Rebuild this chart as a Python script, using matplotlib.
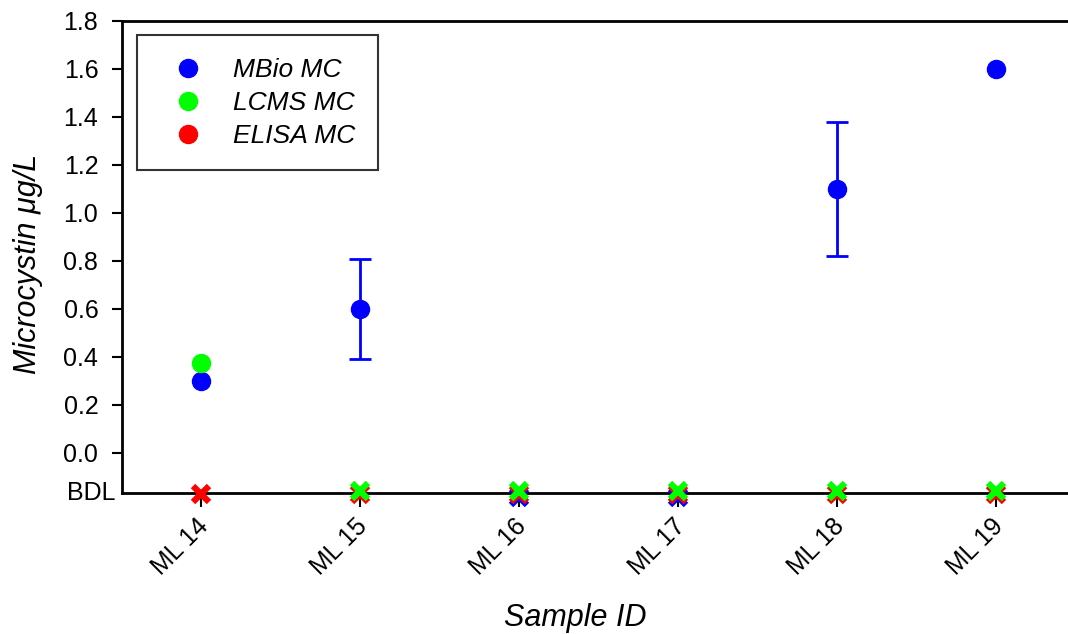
import matplotlib
matplotlib.use("Agg")
import matplotlib.pyplot as plt
import matplotlib.transforms as mtransforms
from matplotlib.lines import Line2D
import numpy as np

plt.rcParams['font.family'] = ['Liberation Sans', 'DejaVu Sans']

# sample sites and measured microcystin (None = below detection limit)
samples = ["ML 14", "ML 15", "ML 16", "ML 17", "ML 18", "ML 19"]
mbio = [0.3, 0.6, None, None, 1.1, 1.6]
mbio_err = [None, 0.21, None, None, 0.28, None]
lcms = [0.375, None, None, None, None, None]
elisa = [None, None, None, None, None, None]

bdl = -0.167
yticks = [0.0, 0.2, 0.4, 0.6, 0.8, 1.0, 1.2, 1.4, 1.6, 1.8]

fig = plt.figure(figsize=(10.68, 6.34), dpi=100)
ax = fig.add_axes([0.1142, 0.2224, 0.8858, 0.7445])

x = np.arange(len(samples))

def split(vals):
    det = [(i, v) for i, v in enumerate(vals) if v is not None]
    nd = [i for i, v in enumerate(vals) if v is None]
    return det, nd

# BDL crosses, nudged a few pixels so overlapping ones stay visible
series = [("MBio MC", mbio, "#0000ff", -4),
          ("ELISA MC", elisa, "#ff0000", -1),
          ("LCMS MC", lcms, "#00ff00", 2)]
for name, vals, col, dy in series:
    det, nd = split(vals)
    if nd:
        off = mtransforms.offset_copy(ax.transData, fig=fig, x=0, y=dy, units='dots')
        ax.plot(nd, [bdl] * len(nd), linestyle='none', marker='x', ms=12,
                mew=4.5, color=col, transform=off, clip_on=False, zorder=4)

# detected values, error bars only where there is a spread
det, _ = split(mbio)
ax.plot([i for i, v in det], [v for i, v in det], 'o', color='#0000ff', ms=13,
        zorder=5, clip_on=False)
eb = [(i, mbio[i], e) for i, e in enumerate(mbio_err) if e is not None]
ax.errorbar([i for i, v, e in eb], [v for i, v, e in eb], yerr=[e for i, v, e in eb],
            fmt='none', ecolor='#0000ff', elinewidth=2, capsize=8, capthick=2, zorder=4)
det, _ = split(lcms)
ax.plot([i for i, v in det], [v for i, v in det], 'o', color='#00ff00', ms=13, zorder=5)

ax.set_xlim(-0.5, 5.45)
ax.set_ylim(bdl, 1.8)
ax.set_xticks(x)
ax.set_xticklabels(samples, rotation=45, ha='right', rotation_mode='anchor', fontsize=18)
ax.set_yticks(yticks)
ax.set_yticklabels(["%.1f" % t for t in yticks], fontsize=18)
ax.tick_params(axis='y', direction='out', length=7, width=1.5, pad=10)
ax.tick_params(axis='x', direction='out', length=10, width=1.5, pad=5)

# pull the slanted sample labels a little to the left
shift = mtransforms.ScaledTranslation(-5 / 100, 0, fig.dpi_scale_trans)
for lab in ax.get_xticklabels():
    lab.set_transform(lab.get_transform() + shift)

# BDL sits at the corner, no tick mark
ax.text(-0.007, bdl, "BDL", transform=ax.get_yaxis_transform(), ha='right',
        va='center', fontsize=18)

for s in ["left", "bottom", "top"]:
    ax.spines[s].set_linewidth(2)
ax.spines["right"].set_visible(False)

ax.set_xlabel("Sample ID", fontsize=22, style='italic')
ax.set_ylabel("Microcystin μg/L", fontsize=22, style='italic')
ax.xaxis.set_label_coords(0.479, -0.233)
ax.yaxis.set_label_coords(-0.083, 0.485)

handles = [Line2D([], [], linestyle='none', marker='o', ms=13, color=c)
           for c in ["#0000ff", "#00ff00", "#ff0000"]]
leg = ax.legend(handles, ["MBio MC", "LCMS MC", "ELISA MC"], loc='upper left',
                bbox_to_anchor=(0.016, 0.97), frameon=True, fancybox=False,
                edgecolor='black', borderpad=0.86, labelspacing=0.34,
                handlelength=2.1, handletextpad=0.68, borderaxespad=0,
                prop={'style': 'italic', 'size': 19})
leg.get_frame().set_linewidth(1.5)

fig.savefig("out.png", dpi=100)
